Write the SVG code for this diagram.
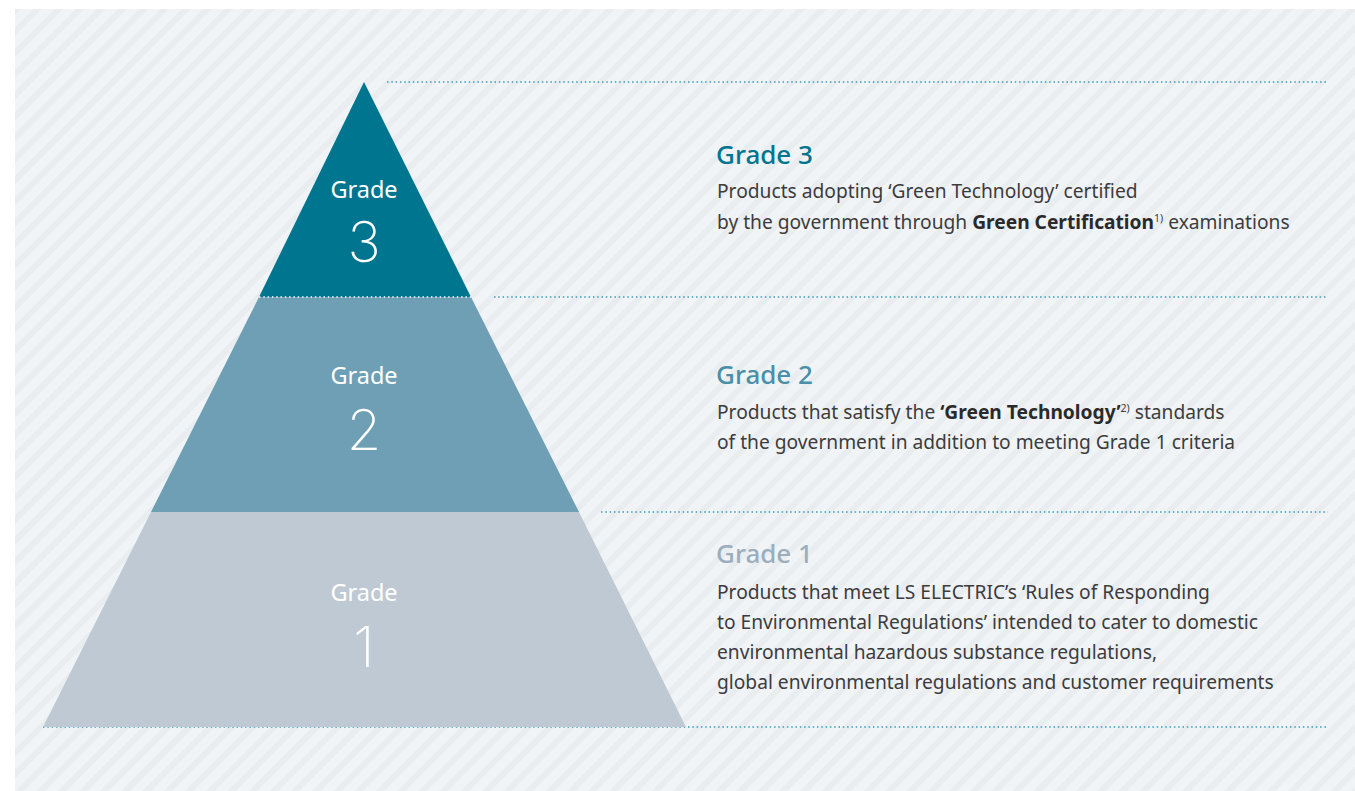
<svg xmlns="http://www.w3.org/2000/svg" width="1355" height="791" viewBox="0 0 1355 791">
<defs>
<pattern id="stripes" patternUnits="userSpaceOnUse" width="15" height="15" patternTransform="rotate(45)">
<rect width="15" height="15" fill="#f1f4f7"/>
<rect width="6" height="15" fill="#eaedf0"/>
</pattern>
</defs>
<style>
.dot{stroke:#3b9bb5;stroke-width:1.5;stroke-dasharray:1.5 2.8;fill:none}
.dotw{stroke:#ffffff;stroke-width:1.5;stroke-dasharray:1.5 2.8;fill:none}
.lbl{font-family:"Noto Sans","Open Sans",sans-serif;fill:#ffffff;text-anchor:middle;font-size:23.5px}
.num{font-family:"Inter","Noto Sans",sans-serif;font-weight:200;fill:#ffffff;text-anchor:middle;font-size:56px}
.ttl{font-family:"Noto Sans","Open Sans",sans-serif;font-size:26px;font-weight:500}
.body{font-family:"Noto Sans","Open Sans",sans-serif;font-size:19.2px;fill:#3c3c3c}
.b{font-weight:bold;fill:#2a2a2a}
.sup{font-size:10.5px}
</style>
<rect x="0" y="0" width="1355" height="791" fill="#ffffff"/>
<rect x="15" y="9" width="1340" height="782" fill="url(#stripes)"/>
<g id="connectors">
<line class="dot" x1="387" y1="82" x2="1328" y2="82"/>
<line class="dot" x1="494" y1="297" x2="1328" y2="297"/>
<line class="dot" x1="601" y1="512" x2="1328" y2="512"/>
<line class="dot" x1="43" y1="727" x2="1328" y2="727"/>
</g>
<g id="grade1">
<polygon points="151,512 579,512 686,727 43,727" fill="#bfc9d3"/>
<text class="lbl" x="364" y="601">Grade</text>
<text class="num" x="364" y="667">1</text>
</g>
<g id="grade2">
<polygon points="259,297 471,297 579,512 151,512" fill="#6f9fb5"/>
<text class="lbl" x="364" y="384">Grade</text>
<text class="num" x="364" y="450">2</text>
</g>
<g id="grade3">
<polygon points="364,82 471,297 259,297" fill="#00758f"/>
<line class="dotw" x1="259" y1="297" x2="471" y2="297"/>
<text class="lbl" x="364" y="198">Grade</text>
<text class="num" x="364" y="262">3</text>
</g>
<g id="desc3">
<text class="ttl" x="716" y="164" fill="#00758f">Grade 3</text>
<text class="body" x="717" y="198">Products adopting ‘Green Technology’ certified</text>
<text class="body" x="717" y="229">by the government through <tspan class="b">Green Certification</tspan><tspan class="sup" dy="-7">1)</tspan><tspan dy="7"> examinations</tspan></text>
</g>
<g id="desc2">
<text class="ttl" x="716" y="384" fill="#4a8fa8">Grade 2</text>
<text class="body" x="717" y="419">Products that satisfy the <tspan class="b">‘Green Technology’</tspan><tspan class="sup" dy="-7">2)</tspan><tspan dy="7"> standards</tspan></text>
<text class="body" x="717" y="449">of the government in addition to meeting Grade 1 criteria</text>
</g>
<g id="desc1">
<text class="ttl" x="716" y="563" fill="#9aaebd">Grade 1</text>
<text class="body" x="717" y="599">Products that meet LS ELECTRIC’s ‘Rules of Responding</text>
<text class="body" x="717" y="629">to Environmental Regulations’ intended to cater to domestic</text>
<text class="body" x="717" y="659">environmental hazardous substance regulations,</text>
<text class="body" x="717" y="689">global environmental regulations and customer requirements</text>
</g>
</svg>
